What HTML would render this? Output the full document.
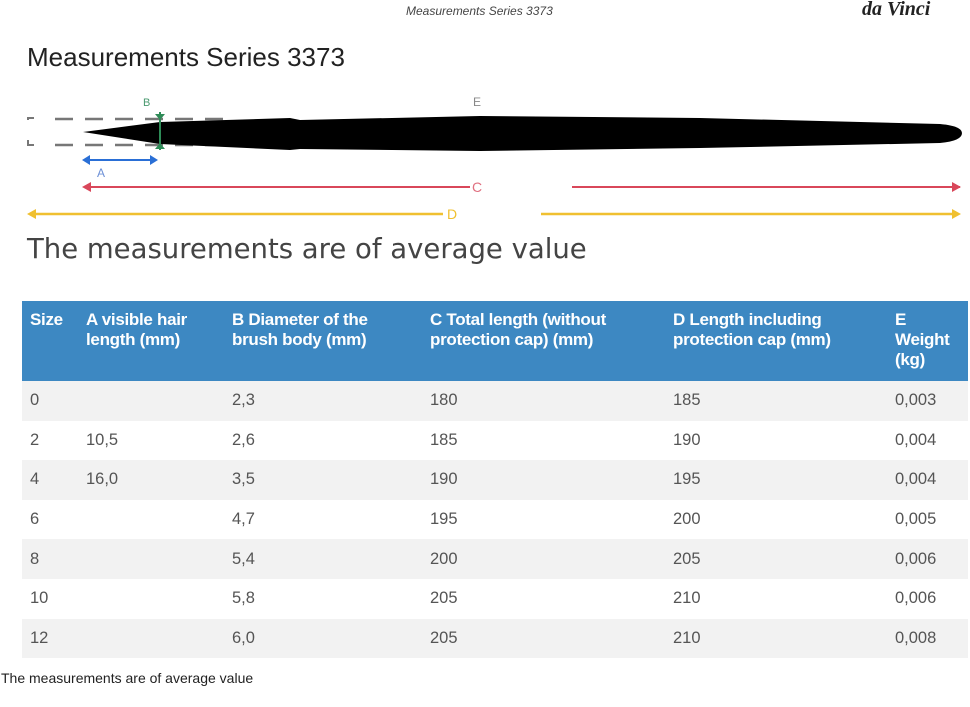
<!DOCTYPE html>
<html><head><meta charset="utf-8"><style>
body{margin:0;width:970px;height:707px;background:#fff;font-family:"Liberation Sans",sans-serif;position:relative;overflow:hidden}
.a{position:absolute;white-space:nowrap}
table{position:absolute;left:22px;top:301px;width:946px;border-collapse:collapse;font-size:16.5px;color:#555}
th{background:#3d88c2;color:#fff;text-align:left;vertical-align:top;font-weight:bold;height:80px;padding:9px 0 0 8px;box-sizing:border-box;line-height:20px;font-size:17px;letter-spacing:-0.3px}
td{height:39.6px;padding:0 0 0 8px}
tr:nth-child(even) td{background:#f2f2f2}
</style></head><body>
<div class="a" style="left:406px;top:4px;font-size:12px;font-style:italic;color:#444">Measurements Series 3373</div>
<div class="a" style="left:862px;top:-2px;font-size:20px;font-style:italic;font-weight:bold;font-family:'Liberation Serif',serif;color:#222">da Vinci</div>
<div class="a" style="left:27px;top:42px;font-size:26px;color:#222">Measurements Series 3373</div>
<svg class="a" style="left:0;top:0" width="970" height="240">
<path d="M28 120V118h6M28 140v5h6" stroke="#777" stroke-width="2" fill="none"/>
<path d="M55 119H225M55 145H225" stroke="#777" stroke-width="2.5" stroke-dasharray="18 12" fill="none"/>
<path d="M83 132 L160 122 L290 118 L300 120 L480 116 L700 118 L940 124 Q962 126 962 133 Q962 141 940 143 L700 148 L480 151 L300 149 L290 150 L160 144 Z" fill="#000"/>
<path d="M160 112V150" stroke="#2e8b57" stroke-width="2"/>
<path d="M155 114h10l-5 6zM155 149h10l-5-6z" fill="#2e8b57"/>
<text x="143" y="106" font-size="11" fill="#4a9a70" font-family="Liberation Sans">B</text>
<text x="473" y="106" font-size="12" fill="#888" font-family="Liberation Sans">E</text>
<path d="M84 160H156" stroke="#2a6fd6" stroke-width="2"/>
<path d="M82 160l8-5v10zM158 160l-8-5v10z" fill="#2a6fd6"/>
<text x="97" y="177" font-size="12" fill="#6b8fd6" font-family="Liberation Sans">A</text>
<path d="M84 187H470M572 187H960" stroke="#d9475a" stroke-width="2"/>
<path d="M82 187l9-5v10zM961 187l-9-5v10z" fill="#d9475a"/>
<text x="472" y="192" font-size="14" fill="#e07080" font-family="Liberation Sans">C</text>
<path d="M30 214H443M541 214H958" stroke="#f0c030" stroke-width="2.5"/>
<path d="M27 214l9-5v10zM961 214l-9-5v10z" fill="#f0c030"/>
<text x="447" y="219" font-size="14" fill="#f0c030" font-family="Liberation Sans">D</text>
</svg>
<div class="a" style="left:27px;top:233px;font-size:27.5px;color:#444;font-family:'DejaVu Sans',sans-serif">The measurements are of average value</div>
<table>
<tr><th style="width:56px">Size</th><th style="width:146px">A visible hair<br>length (mm)</th><th style="width:198px">B Diameter of the<br>brush body (mm)</th><th style="width:243px">C Total length (without<br>protection cap) (mm)</th><th style="width:222px">D Length including<br>protection cap (mm)</th><th>E<br>Weight<br>(kg)</th></tr>
<tr><td>0</td><td></td><td>2,3</td><td>180</td><td>185</td><td>0,003</td></tr>
<tr><td>2</td><td>10,5</td><td>2,6</td><td>185</td><td>190</td><td>0,004</td></tr>
<tr><td>4</td><td>16,0</td><td>3,5</td><td>190</td><td>195</td><td>0,004</td></tr>
<tr><td>6</td><td></td><td>4,7</td><td>195</td><td>200</td><td>0,005</td></tr>
<tr><td>8</td><td></td><td>5,4</td><td>200</td><td>205</td><td>0,006</td></tr>
<tr><td>10</td><td></td><td>5,8</td><td>205</td><td>210</td><td>0,006</td></tr>
<tr><td>12</td><td></td><td>6,0</td><td>205</td><td>210</td><td>0,008</td></tr>
</table>
<div class="a" style="left:1px;top:670px;font-size:14px;color:#222">The measurements are of average value</div>
</body></html>
